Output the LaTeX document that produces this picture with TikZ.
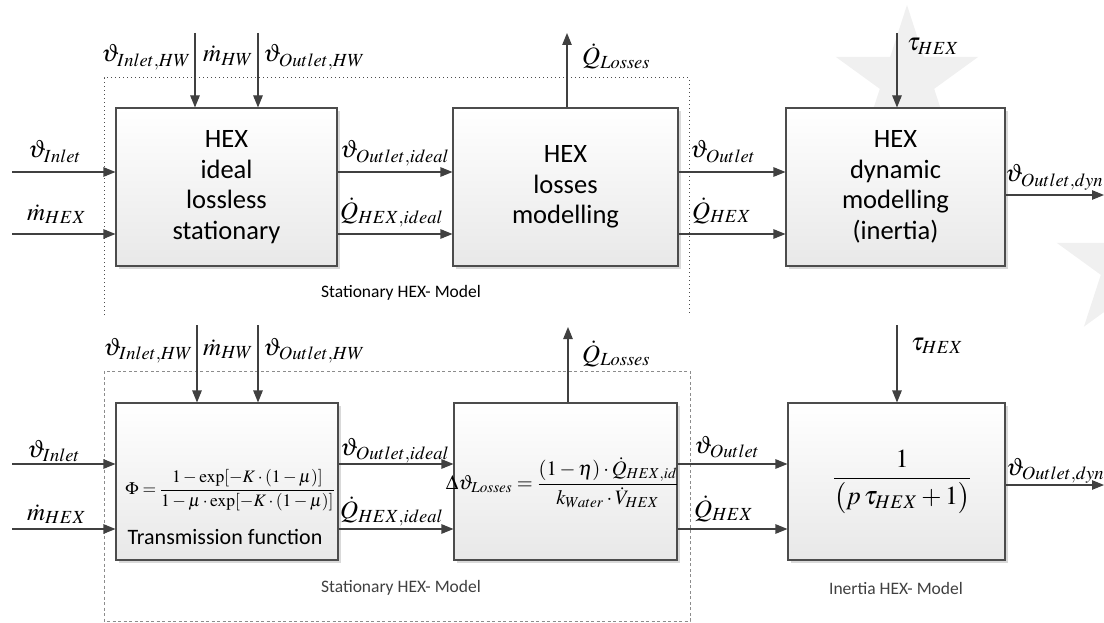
\documentclass[tikz,border=0pt]{standalone}
\usepackage{mathptmx}
\usepackage[no-math]{fontspec}
\setmainfont{Carlito}
\usetikzlibrary{arrows.meta,shadows}
\DeclareMathSizes{25}{25}{18.5}{14}

\begin{document}
\begin{tikzpicture}[x=1pt,y=-1pt,
  blk/.style={draw=black!70, line width=1.1pt, top color=white, bottom color=black!9,
    minimum height=158pt, inner sep=0pt, align=center,
    drop shadow={shadow xshift=3pt, shadow yshift=-3pt, fill=black!15, opacity=1},
    font=\fontsize{26.5}{30.5}\selectfont},
  flow/.style={draw=black!75, line width=1.1pt, -{Triangle[length=12pt,width=9.5pt]}},
  sym/.style={font=\fontsize{25}{29}\selectfont, inner sep=0pt},
  grp/.style={font=\fontsize{17.5}{20}\selectfont, inner sep=0pt},
  frameA/.style={draw=black!70, line width=1pt, dash pattern=on 1pt off 3pt},
  frameB/.style={draw=black!45, line width=1pt, dash pattern=on 3pt off 2.5pt},
  starbg/.style={fill=black!6, draw=none}]

\useasboundingbox (0,0) rectangle (1104,623);

% faint background stars
\foreach \cx/\cy in {907/80, 1128/266}{
  \begin{scope}[shift={(\cx,\cy)}]
    \fill[starbg] (-90:75)
      \foreach \k in {1,...,9}{
        \ifodd\k -- (-90+36*\k:28.6) \else -- (-90+36*\k:75) \fi
      } -- cycle;
  \end{scope}
}

% group frames
\draw[frameA] (104,315) -- (104,78) -- (689,78) -- (689,315);
\draw[frameB] (104,371) rectangle (690,621);

% ---------- upper chain ----------
\node[blk, minimum width=221pt] (b1) at (226.5,187) {HEX\\ideal\\lossless\\stationary};
\node[blk, minimum width=225pt] (b2) at (565.5,187) {HEX\\losses\\modelling};
\node[blk, minimum width=219pt] (b3) at (895.5,187) {HEX\\dynamic\\modelling\\(inertia)};

\coordinate (u1) at (195,33);
\coordinate (u2) at (258,33);
\coordinate (uq) at (567,33);
\coordinate (ut) at (897,33);
\coordinate (ui1) at (12,172);
\coordinate (ui2) at (12,234);
\coordinate (uo) at (1104,195);

\draw[flow] (u1) -- (u1 |- b1.north);
\draw[flow] (u2) -- (u2 |- b1.north);
\draw[flow] (uq |- b2.north) -- (uq);
\draw[flow] (ut) -- (ut |- b3.north);
\draw[flow] (ui1) -- (ui1 -| b1.west);
\draw[flow] (ui2) -- (ui2 -| b1.west);
\draw[flow] ([yshift=15pt]b1.east) -- ([yshift=15pt]b2.west);
\draw[flow] ([yshift=-47pt]b1.east) -- ([yshift=-47pt]b2.west);
\draw[flow] ([yshift=15pt]b2.east) -- ([yshift=15pt]b3.west);
\draw[flow] ([yshift=-47pt]b2.east) -- ([yshift=-47pt]b3.west);
\draw[flow] ([yshift=-8pt]b3.east) -- (uo);

\node[sym, anchor=base east] (l1) at (191,62) {$\vartheta_{Inlet,HW}$};
\node[sym, anchor=base west] (l2) at (203,62) {$\dot{m}_{HW}$};
\node[sym, anchor=base west] (l3) at (263,62) {$\vartheta_{Outlet,HW}$};
\node[sym, anchor=base west] (l4) at (582,65) {$\dot{Q}_{Losses}$};
\node[sym, anchor=base west] (l5) at (907,51) {$\tau_{HEX}$};
\node[sym, anchor=base west] (l6) at (28,158) {$\vartheta_{Inlet}$};
\node[sym, anchor=base west] (l7) at (27,220) {$\dot{m}_{HEX}$};
\node[sym, anchor=base west] (l8) at (340,158) {$\vartheta_{Outlet,ideal}$};
\node[sym, anchor=base west] (l9) at (340,219) {$\dot{Q}_{HEX,ideal}$};
\node[sym, anchor=base west] (l10) at (690,158) {$\vartheta_{Outlet}$};
\node[sym, anchor=base west] (l11) at (692,219) {$\dot{Q}_{HEX}$};
\node[sym, anchor=base west] (l12) at (1005,182) {$\vartheta_{Outlet,dyn}$};

\node[grp] (g1) at (401,293) {Stationary HEX- Model};

% ---------- lower chain ----------
\node[blk, minimum width=222pt, minimum height=157pt] (b4) at (227,481.5) {};
\node[blk, minimum width=223pt, minimum height=157pt] (b5) at (565.5,481.5) {};
\node[blk, minimum width=217pt, minimum height=157pt] (b6) at (896.5,481.5) {};

\node[inner sep=0pt, font=\fontsize{17.5}{20}\selectfont] (f4) at (230,490)
  {$\Phi=\displaystyle\frac{1-\exp[-K\cdot(1-\mu)]}{1-\mu\cdot\exp[-K\cdot(1-\mu)]}$};
\node[inner sep=0pt, font=\fontsize{22}{26}\selectfont] (t4) at (225,537) {Transmission function};
\node[inner sep=0pt, font=\fontsize{20.5}{24}\selectfont] (f5) at (562,483)
  {$\Delta\vartheta_{Losses}=\displaystyle\frac{(1-\eta)\cdot\dot{Q}_{HEX,id}}{k_{Water}\cdot\dot{V}_{HEX}}$};
\node[inner sep=0pt, font=\fontsize{26}{30}\selectfont] (f6) at (902,482)
  {$\displaystyle\frac{1}{\bigl(p\,\tau_{HEX}+1\bigr)}$};

\coordinate (d1) at (197,325);
\coordinate (d2) at (258,325);
\coordinate (dq) at (568,327);
\coordinate (dt) at (897,325);
\coordinate (di1) at (12,464);
\coordinate (di2) at (12,529);
\coordinate (do) at (1104,485);

\draw[flow] (d1) -- (d1 |- b4.north);
\draw[flow] (d2) -- (d2 |- b4.north);
\draw[flow] (dq |- b5.north) -- (dq);
\draw[flow] (dt) -- (dt |- b6.north);
\draw[flow] (di1) -- (di1 -| b4.west);
\draw[flow] (di2) -- (di2 -| b4.west);
\draw[flow] ([yshift=17.5pt]b4.east) -- ([yshift=17.5pt]b5.west);
\draw[flow] ([yshift=-47.5pt]b4.east) -- ([yshift=-47.5pt]b5.west);
\draw[flow] ([yshift=17.5pt]b5.east) -- ([yshift=17.5pt]b6.west);
\draw[flow] ([yshift=-47.5pt]b5.east) -- ([yshift=-47.5pt]b6.west);
\draw[flow] ([yshift=-3.5pt]b6.east) -- (do);

\node[sym, anchor=base east] (m1) at (193,355) {$\vartheta_{Inlet,HW}$};
\node[sym, anchor=base west] (m2) at (203,355) {$\dot{m}_{HW}$};
\node[sym, anchor=base west] (m3) at (263,355) {$\vartheta_{Outlet,HW}$};
\node[sym, anchor=base west] (m4) at (582,362) {$\dot{Q}_{Losses}$};
\node[sym, anchor=base west] (m5) at (911,350) {$\tau_{HEX}$};
\node[sym, anchor=base west] (m6) at (27,457) {$\vartheta_{Inlet}$};
\node[sym, anchor=base west] (m7) at (27,520) {$\dot{m}_{HEX}$};
\node[sym, anchor=base west] (m8) at (340,455) {$\vartheta_{Outlet,ideal}$};
\node[sym, anchor=base west] (m9) at (340,518) {$\dot{Q}_{HEX,ideal}$};
\node[sym, anchor=base west] (m10) at (694,453) {$\vartheta_{Outlet}$};
\node[sym, anchor=base west] (m11) at (694,517) {$\dot{Q}_{HEX}$};
\node[sym, anchor=base west] (m12) at (1006,475) {$\vartheta_{Outlet,dyn}$};

\node[grp, text=black!75] (g2) at (401,588) {Stationary HEX- Model};
\node[grp, text=black!75] (g3) at (896,588) {Inertia HEX- Model};
\end{tikzpicture}
\end{document}
